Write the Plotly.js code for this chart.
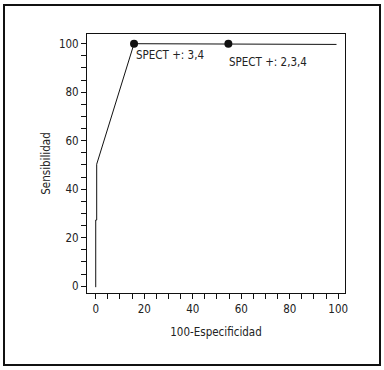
<!DOCTYPE html>
<html><head><meta charset="utf-8">
<script src="https://cdn.plot.ly/plotly-3.0.1.min.js"></script>
<style>
html,body{margin:0;padding:0;background:#fff;}
#chart{width:384px;height:370px;}
#frame{position:absolute;left:3px;top:4px;width:374px;height:358px;border:2px solid #111;pointer-events:none;}
</style></head>
<body>
<div id="chart"></div>
<div id="frame"></div>
<script>
// ROC curve values (100-Especificidad, Sensibilidad)
var rocX = [0, 0, 0.4, 0.4, 15.8, 54.7, 65.2, 65.2, 99.3];
var rocY = [-0.4, 27.3, 27.3, 50.3, 100, 100, 100, 99.7, 99.7];
// marked cut points
var cutX = [15.8, 54.7];
var cutY = [100, 100];
var cutLabels = ["SPECT +: 3,4", "SPECT +: 2,3,4"];
var tickVals = [0, 20, 40, 60, 80, 100];

var font = {family: "DejaVu Sans Condensed, Liberation Sans Narrow, sans-serif", size: 11.5, color: "#222"};

var traces = [
  {x: rocX, y: rocY, mode: "lines", line: {color: "#111", width: 1}, hoverinfo: "skip", showlegend: false},
  {x: cutX, y: cutY, mode: "markers", marker: {color: "#111", size: 8}, showlegend: false}
];

var annotations = cutLabels.map(function(t, i){
  return {x: cutX[i], y: cutY[i], text: t, showarrow: false, xanchor: "left", yanchor: "top",
          xshift: i === 0 ? 0 : -1, yshift: i === 0 ? -2 : -9, font: font};
});

var axisCommon = {
  showgrid: false, zeroline: false, showline: true, linecolor: "#111", linewidth: 1, mirror: true,
  ticks: "outside", ticklen: 5, tickwidth: 1, tickcolor: "#111",
  tickmode: "array", tickvals: tickVals, tickfont: font,
  minor: {dtick: 5, ticks: "outside", ticklen: 5, tickwidth: 1, tickcolor: "#111", showgrid: false}
};

var layout = {
  width: 384, height: 370,
  margin: {l: 87, r: 39, t: 34, b: 77},
  paper_bgcolor: "#fff", plot_bgcolor: "#fff",
  font: font,
  xaxis: Object.assign({}, axisCommon, {range: [-3.6, 102.8], title: {text: "100-Especificidad", font: font, standoff: 13}}),
  yaxis: Object.assign({}, axisCommon, {range: [-2.8, 104], title: {text: "Sensibilidad", font: font, standoff: 5}}),
  annotations: annotations
};

Plotly.newPlot("chart", traces, layout, {displayModeBar: false, staticPlot: true});
</script>
</body></html>
